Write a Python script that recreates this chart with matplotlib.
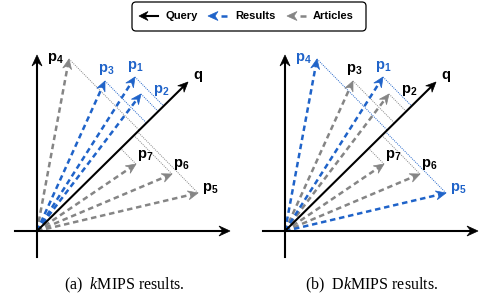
import numpy as np
import matplotlib.pyplot as plt
from matplotlib.patches import Polygon, FancyBboxPatch

plt.rcParams['mathtext.fontset'] = 'custom'
plt.rcParams['mathtext.bf'] = 'Liberation Sans:bold'
plt.rcParams['mathtext.it'] = 'Liberation Serif:italic'
plt.rcParams['mathtext.rm'] = 'Liberation Serif'

# vectors (x right, y up), origin = (0, 0)
names = ['1', '2', '3', '4', '5', '6', '7']
vec_x = [98, 104, 68, 32, 161, 135, 99]
vec_y = [154, 137, 150, 172, 38, 57, 67]
query = [151, 149]
results_a = ['1', '2', '3']   # kMIPS
results_b = ['1', '4', '5']   # DkMIPS
captions = [r'(a)  $\mathit{k}$MIPS results.', r'(b)  D$\mathit{k}$MIPS results.']

BLUE = '#1f63c9'
GRAY = '#858585'

# label offsets in pixels from tip (dx, dy_down, ha, va)
lab_off = {
    '1': (0, -3, 'center', 'bottom'),
    '2': (12, -4, 'left', 'center'),
    '3': (1, -4, 'center', 'bottom'),
    '4': (-5, -1, 'right', 'center'),
    '5': (4, -4, 'left', 'center'),
    '6': (1, -2, 'left', 'bottom'),
    '7': (1, -1, 'left', 'bottom'),
}

fig = plt.figure(figsize=(4.83, 3.0), dpi=100)
ax = fig.add_axes([0, 0, 1, 1])
ax.set_xlim(0, 483)
ax.set_ylim(300, 0)
ax.axis('off')


def head(tip, d, color, L=10, W=4.5, notch=3.5, z=5):
    d = np.asarray(d, float)
    d = d / np.linalg.norm(d)
    n = np.array([-d[1], d[0]])
    tip = np.asarray(tip, float)
    base = tip - L * d
    pts = [tip, base + W * n, tip - (L - notch) * d, base - W * n]
    ax.add_patch(Polygon(pts, closed=True, fc=color, ec=color, lw=0.5, zorder=z))
    return tip - (L - notch) * d


def to_px(o, v):
    return np.array([o[0] + v[0], o[1] - v[1]])


def dashed_arrow(p0, p1, color, z=3):
    end = head(p1, p1 - p0, color, z=z + 1)
    ax.plot([p0[0], end[0]], [p0[1], end[1]], color=color, lw=1.8,
            linestyle=(0, (2.2, 1.5)), solid_capstyle='butt', zorder=z)


def panel(o, results, caption, cx):
    o = np.array(o, float)
    u = np.array(query, float) / np.linalg.norm(query)
    # projections
    for nm, vx, vy in zip(names, vec_x, vec_y):
        v = np.array([vx, vy], float)
        pr = np.dot(v, u) * u
        col = BLUE if nm in results else GRAY
        a, b = to_px(o, v), to_px(o, pr)
        ax.plot([a[0], b[0]], [a[1], b[1]], color=col, lw=0.7,
                linestyle=(0, (1, 1.2)), zorder=2)
    # vectors
    for nm, vx, vy in zip(names, vec_x, vec_y):
        col = BLUE if nm in results else GRAY
        tip = to_px(o, (vx, vy))
        dashed_arrow(o, tip, col, z=4 if nm in results else 3)
        dx, dy, ha, va = lab_off[nm]
        ax.text(tip[0] + dx, tip[1] + dy, r'$\mathbf{p}_{\mathbf{%s}}$' % nm,
                color=BLUE if nm in results else 'black', fontsize=10.5,
                ha=ha, va=va, zorder=6)
    # query
    qt = to_px(o, query)
    end = head(qt, qt - o, 'black', z=7)
    ax.plot([o[0], end[0]], [o[1], end[1]], color='black', lw=1.5, zorder=6)
    ax.text(qt[0] + 5, qt[1] - 5, r'$\mathbf{q}$', fontsize=10.5, ha='left',
            va='center', zorder=6)
    # axes
    xs, xe = to_px(o, (-22, 0)), to_px(o, (193, 0))
    ys, ye = to_px(o, (0, -26)), to_px(o, (0, 176))
    for s, e in [(xs, xe), (ys, ye)]:
        end = head(e, e - s, 'black', L=11, W=5, notch=4, z=7)
        ax.plot([s[0], end[0]], [s[1], end[1]], color='black', lw=1.5, zorder=6)
    ax.text(cx, 285, caption, family='Liberation Serif', fontsize=11.5,
            ha='center', va='center')


panel((37, 231), results_a, captions[0], 124)
panel((285, 231), results_b, captions[1], 372)

# legend
ax.add_patch(FancyBboxPatch((132, 2), 234, 29,
                            boxstyle='round,pad=0,rounding_size=4',
                            fc='white', ec='black', lw=0.9, zorder=8))
ly = 16
# Query
tip = np.array([139, ly])
end = head(tip, (-1, 0), 'black', L=9, W=4.5, notch=3, z=9)
ax.plot([end[0], 158], [ly, ly], color='black', lw=1.5, zorder=9)
ax.text(166, ly, 'Query', fontsize=8, fontweight='bold',
        family='Liberation Sans', ha='left', va='center', zorder=9)
for tx, col, lab, lx in [(208, BLUE, 'Results', 235), (287, GRAY, 'Articles', 313)]:
    tip = np.array([tx, ly])
    head(tip, (-1, 0), col, L=10, W=4.5, notch=3, z=9)
    ax.plot([tx + 13, tx + 19], [ly, ly], color=col, lw=1.8,
            solid_capstyle='butt', zorder=9)
    ax.text(lx, ly, lab, fontsize=8, fontweight='bold',
            family='Liberation Sans', ha='left', va='center', zorder=9)

fig.savefig('out.png', dpi=100)
